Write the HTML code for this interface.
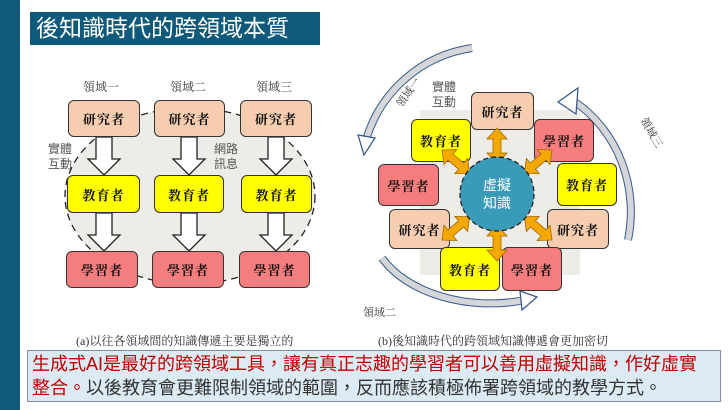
<!DOCTYPE html>
<html><head><meta charset="utf-8"><style>
body{margin:0;width:728px;height:410px;overflow:hidden;background:#fff;position:relative;font-family:"Liberation Sans","Noto Sans CJK TC",sans-serif}
.bx{position:absolute;border:1.5px solid #333;border-radius:6px;box-sizing:border-box;display:flex;align-items:center;justify-content:center;font-family:"Liberation Serif","Noto Serif CJK SC",serif;font-weight:bold;font-size:13px;color:#111;letter-spacing:1px}
.r{background:#f7cdb0}.e{background:#ffff00}.l{background:#f57d7d}
.t{position:absolute;font-size:12px;color:#555;line-height:15px}
.s{position:absolute;font-family:"Liberation Serif","Noto Serif CJK SC",serif;font-size:11px;color:#333}
</style></head><body>
<div style="position:absolute;left:0;top:0;width:20px;height:410px;background:#0f5a7a"></div>
<div style="position:absolute;left:30px;top:12px;width:290px;height:33px;background:#0f5a7a;color:#fff;font-size:23px;line-height:33px;padding-left:6px;box-sizing:border-box">後知識時代的跨領域本質</div>

<svg style="position:absolute;left:0;top:0" width="728" height="410">
<ellipse cx="190" cy="196" rx="125" ry="88" fill="#eeece6" stroke="#222" stroke-dasharray="7,5" stroke-width="1.3"/>
<g fill="#fff" stroke="#222" stroke-width="1.3">
<path d="M96 137 h16 v22 h8 l-16 16 l-16 -16 h8z"/>
<path d="M181 137 h16 v22 h8 l-16 16 l-16 -16 h8z"/>
<path d="M268 137 h16 v22 h8 l-16 16 l-16 -16 h8z"/>
<path d="M96 213 h16 v22 h8 l-16 16 l-16 -16 h8z"/>
<path d="M181 213 h16 v22 h8 l-16 16 l-16 -16 h8z"/>
<path d="M268 213 h16 v22 h8 l-16 16 l-16 -16 h8z"/>
</g>
<rect x="420" y="110" width="160" height="165" fill="#eeece6"/>
<g fill="none">
<path d="M472 48 A130 130 0 0 0 366 140" stroke="#3a5a8a" stroke-width="8"/>
<path d="M472 48 A130 130 0 0 0 366 140" stroke="#d4d6da" stroke-width="6"/>
<path d="M575 102 A120 130 0 0 1 628 240" stroke="#3a5a8a" stroke-width="8"/>
<path d="M575 102 A120 130 0 0 1 628 240" stroke="#d4d6da" stroke-width="6"/>
<path d="M382 258 A120 80 0 0 0 525 300" stroke="#3a5a8a" stroke-width="8"/>
<path d="M382 258 A120 80 0 0 0 525 300" stroke="#d4d6da" stroke-width="6"/>
</g>
<g fill="#fff" stroke="#3a5a8a" stroke-width="1.3">
<polygon points="358,135 375,138 364,155"/>
<polygon points="558,102 578,88 576,114"/>
<polygon points="520,291 537,297 522,310"/>
</g>
<text transform="translate(402,108) rotate(-55)" font-size="11" fill="#333" font-family="Liberation Serif,Noto Serif CJK SC,serif">領域一</text>
<text transform="translate(640,120) rotate(60)" font-size="11" fill="#333" font-family="Liberation Serif,Noto Serif CJK SC,serif">領域三</text>
</svg>

<div class="t" style="left:83px;top:80px;font-family:'Liberation Serif','Noto Serif CJK SC',serif;color:#333">領域一</div>
<div class="t" style="left:170px;top:80px;font-family:'Liberation Serif','Noto Serif CJK SC',serif;color:#333">領域二</div>
<div class="t" style="left:256px;top:80px;font-family:'Liberation Serif','Noto Serif CJK SC',serif;color:#333">領域三</div>
<div class="t" style="left:48px;top:142px">實體<br>互動</div>
<div class="t" style="left:214px;top:142px">網路<br>訊息</div>
<div class="t" style="left:432px;top:80px">實體<br>互動</div>
<div class="s" style="left:363px;top:304px">領域二</div>

<div class="bx r" style="left:68px;top:100px;width:72px;height:37px">研究者</div>
<div class="bx r" style="left:154px;top:100px;width:71px;height:37px">研究者</div>
<div class="bx r" style="left:240px;top:100px;width:72px;height:37px">研究者</div>
<div class="bx e" style="left:67px;top:175px;width:73px;height:38px">教育者</div>
<div class="bx e" style="left:154px;top:175px;width:70px;height:38px">教育者</div>
<div class="bx e" style="left:241px;top:175px;width:71px;height:38px">教育者</div>
<div class="bx l" style="left:66px;top:251px;width:72px;height:37px">學習者</div>
<div class="bx l" style="left:152px;top:251px;width:72px;height:37px">學習者</div>
<div class="bx l" style="left:239px;top:251px;width:71px;height:37px">學習者</div>

<div class="bx r" style="left:471px;top:92px;width:63px;height:38px">研究者</div>
<div class="bx e" style="left:411px;top:119px;width:60px;height:43px">教育者</div>
<div class="bx l" style="left:534px;top:119px;width:60px;height:43px">學習者</div>
<div class="bx l" style="left:378px;top:164px;width:61px;height:42px">學習者</div>
<div class="bx e" style="left:557px;top:163px;width:60px;height:43px">教育者</div>
<div class="bx r" style="left:389px;top:209px;width:61px;height:40px">研究者</div>
<div class="bx r" style="left:547px;top:209px;width:62px;height:40px">研究者</div>
<div class="bx e" style="left:440px;top:247px;width:60px;height:44px">教育者</div>
<div class="bx l" style="left:502px;top:247px;width:60px;height:44px">學習者</div>

<svg style="position:absolute;left:0;top:0" width="728" height="410">
<defs><path id="da" d="M0 0 l11 -10 v6 h14 v-6 l11 10 l-11 10 v-6 h-14 v6z" fill="#f5a800" stroke="#a06800" stroke-width="0.8"/></defs>
<use href="#da" transform="translate(497,128) rotate(90)"/>
<use href="#da" transform="translate(497,225) rotate(90)"/>
<use href="#da" transform="translate(442,150) rotate(40)"/>
<use href="#da" transform="translate(552,150) rotate(140)"/>
<use href="#da" transform="translate(442,240) rotate(-40)"/>
<use href="#da" transform="translate(552,240) rotate(-140)"/>
<circle cx="497" cy="194" r="37" fill="#3a9bb8" stroke="#222" stroke-dasharray="5,3" stroke-width="1.3"/>
<text x="497" y="190" fill="#fff" font-size="14" text-anchor="middle" font-family="Liberation Sans,Noto Sans CJK TC,sans-serif">虛擬</text>
<text x="497" y="208" fill="#fff" font-size="14" text-anchor="middle" font-family="Liberation Sans,Noto Sans CJK TC,sans-serif">知識</text>
</svg>

<div class="s" style="left:76px;top:332px;font-size:12px">(a)以往各領域間的知識傳遞主要是獨立的</div>
<div class="s" style="left:378px;top:332px;font-size:12px">(b)後知識時代的跨領域知識傳遞會更加密切</div>

<div style="position:absolute;left:27px;top:350px;width:694px;height:52px;background:#dbeaf3;border:1px solid #8a8aa0;box-sizing:border-box;padding:1px 4px;font-size:18px;line-height:24px;color:#333;white-space:nowrap;overflow:hidden"><span style="color:#c00000">生成式AI是最好的跨領域工具，讓有真正志趣的學習者可以善用虛擬知識，作好虛實<br>整合。</span>以後教育會更難限制領域的範圍，反而應該積極佈署跨領域的教學方式。</div>
</body></html>
